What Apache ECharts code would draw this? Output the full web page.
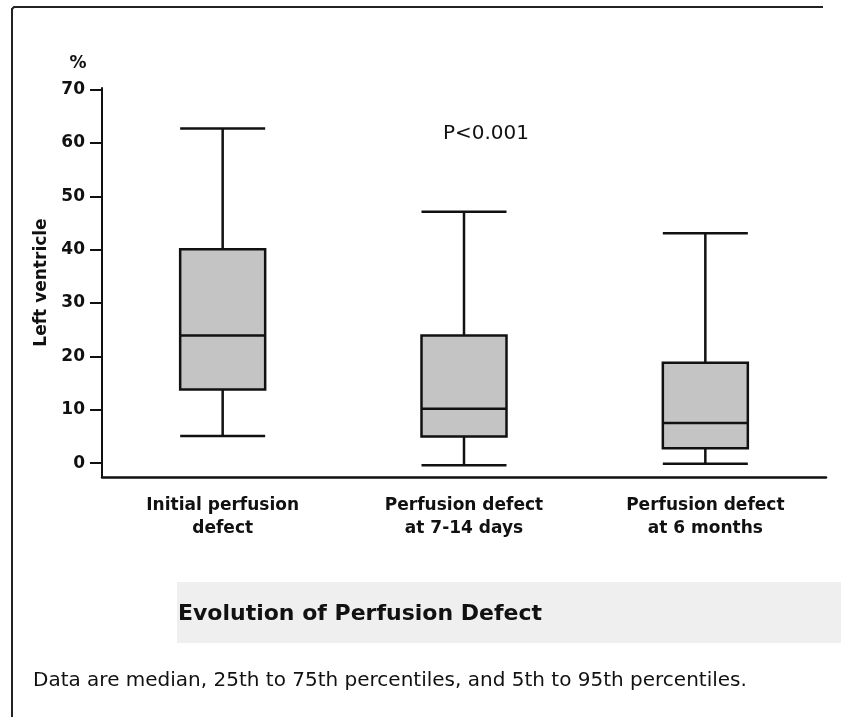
<!DOCTYPE html>
<html>
<head>
<meta charset="utf-8">
<script src="https://cdn.jsdelivr.net/npm/echarts@6/dist/echarts.min.js"></script>
<style>
html,body{margin:0;padding:0;background:#fff;}
#chart{width:841px;height:717px;}
</style>
</head>
<body>
<div id="chart"></div>
<script>
// ---- data ----
const categories = ['Initial perfusion\ndefect', 'Perfusion defect\nat 7-14 days', 'Perfusion defect\nat 6 months'];
const p5  = [5.1, -0.4, -0.1];   // 5th percentile (lower whisker)
const p25 = [13.8, 5.0, 2.8];    // 25th percentile
const p50 = [23.9, 10.2, 7.5];   // median
const p75 = [40.1, 23.9, 18.8];  // 75th percentile
const p95 = [62.7, 47.1, 43.1];  // 95th percentile (upper whisker)
const yTicks = [0, 10, 20, 30, 40, 50, 60, 70];
const yName = 'Left ventricle';
const yUnit = '%';
const pText = 'P<0.001';
const caption = 'Evolution of Perfusion Defect';
const footnote = 'Data are median, 25th to 75th percentiles, and 5th to 95th percentiles.';

const boxData = categories.map((c, i) => [p5[i], p25[i], p50[i], p75[i], p95[i]]);

const FONT = 'DejaVu Sans';
const INK = '#111';

const chart = echarts.init(document.getElementById('chart'), null, {renderer: 'canvas'});
chart.setOption({
  animation: false,
  backgroundColor: '#fff',
  grid: {left: 102, right: 15, top: 88, bottom: 240, containLabel: false},
  xAxis: {
    type: 'category',
    data: categories,
    axisLine: {show: true, onZero: false, lineStyle: {color: INK, width: 2.5}},
    axisTick: {show: false},
    axisLabel: {
      interval: 0, margin: 17, color: INK, fontFamily: FONT, fontWeight: 'bold',
      fontSize: 17, lineHeight: 23, align: 'center'
    },
    splitLine: {show: false}
  },
  yAxis: {
    type: 'value',
    min: -2.6, max: 70.3,
    name: yName,
    nameLocation: 'middle',
    nameGap: 47,
    nameTextStyle: {color: INK, fontFamily: FONT, fontWeight: 'bold', fontSize: 17},
    axisLine: {show: true, onZero: false, lineStyle: {color: INK, width: 2}},
    axisTick: {show: true, inside: false, length: 12, lineStyle: {color: INK, width: 2}, customValues: yTicks},
    axisLabel: {
      customValues: yTicks, margin: 17, color: INK, fontFamily: FONT,
      fontWeight: 'bold', fontSize: 17
    },
    splitLine: {show: false}
  },
  series: [{
    type: 'boxplot',
    data: boxData,
    boxWidth: [85, 85],
    itemStyle: {color: '#c4c4c4', borderColor: INK, borderWidth: 2.5},
    emphasis: {disabled: true},
    silent: true
  }],
  graphic: [
    {type: 'polyline', shape: {points: [[823, 7], [14, 7], [12, 9], [12, 717]]},
     style: {stroke: '#222', lineWidth: 2, fill: null}},
    {type: 'text', x: 78, y: 64,
     style: {text: yUnit, fontFamily: FONT, fontWeight: 'bold', fontSize: 17, fill: INK, textAlign: 'center', textVerticalAlign: 'middle'}},
    {type: 'text', x: 486, y: 134,
     style: {text: pText, fontFamily: FONT, fontSize: 20, fill: INK, textAlign: 'center', textVerticalAlign: 'middle'}},
    {type: 'rect', shape: {x: 177, y: 582, width: 664, height: 61},
     style: {fill: '#efefef'}},
    {type: 'text', x: 178, y: 614,
     style: {text: caption, fontFamily: FONT, fontWeight: 'bold', fontSize: 22, fill: INK, textAlign: 'left', textVerticalAlign: 'middle'}},
    {type: 'text', x: 33, y: 681,
     style: {text: footnote, fontFamily: FONT, fontSize: 20, fill: INK, textAlign: 'left', textVerticalAlign: 'middle'}}
  ]
});
</script>
</body>
</html>
